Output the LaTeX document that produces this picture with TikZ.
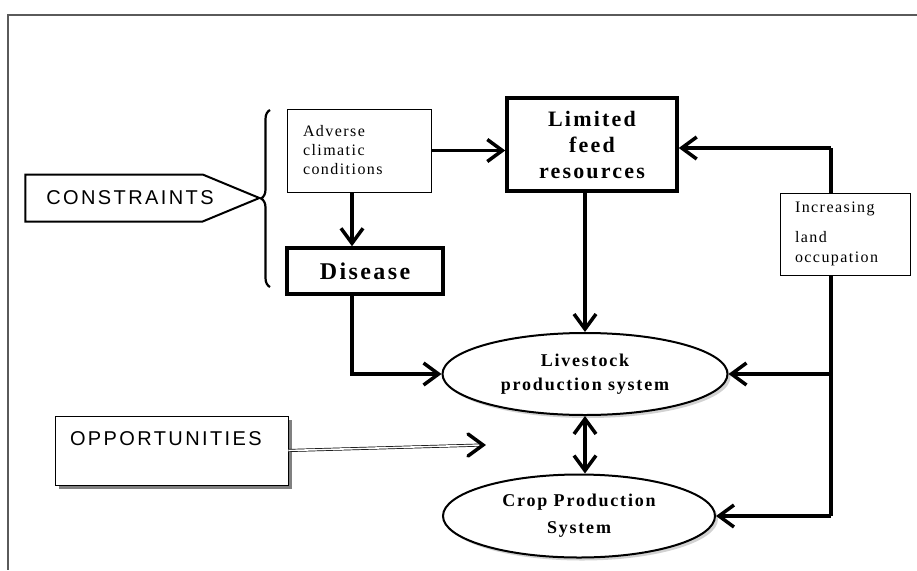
\documentclass[tikz,border=0pt]{standalone}
\usepackage{fontspec}
\setmainfont{Liberation Serif}
\setsansfont{Liberation Sans}
\usetikzlibrary{positioning,arrows.meta,calc,shapes.geometric,shapes.symbols,shadows,decorations.pathreplacing}
\definecolor{colorline}  {RGB}{  0,  0,  0}
\definecolor{colorframe} {RGB}{ 90, 90, 90}
\definecolor{colorshadow}{RGB}{128,128,128}
\definecolor{colorwhite} {RGB}{255,255,255}
\newfontfamily\bigspaced[LetterSpace=10]{Liberation Serif}
\newfontfamily\smallspaced[LetterSpace=9]{Liberation Serif}
\newfontfamily\sansspaced[LetterSpace=12]{Liberation Sans}

\begin{document}
\begin{tikzpicture}[
    x=1pt, y=-1pt, thick,
    >={Straight Barb[length=15pt,width=22pt]},
    link/.style={draw=colorline,line width=3.5pt},
    thinbox/.style={draw=colorline,line width=0.8pt,fill=colorwhite,inner sep=0pt},
    thickbox/.style={draw=colorline,line width=3.5pt,fill=colorwhite,inner sep=0pt},
    oval/.style={draw=colorline,ellipse,line width=2pt,fill=colorwhite,inner sep=0pt,
        drop shadow={shadow xshift=3pt,shadow yshift=-3pt,fill=colorshadow!70}},
    title/.style={font={\bigspaced\bfseries\fontsize{22}{26}\selectfont},align=center},
    smalltext/.style={font={\smallspaced\fontsize{16}{19}\selectfont},align=left},
    sanstext/.style={font={\sansspaced\fontsize{20}{24}\selectfont}}
]
    \useasboundingbox (0,0) rectangle (917,570);

    % Frame
    \draw[colorframe,line width=1.2pt] (917,15) -- (8,15) -- (8,570);

    % Constraints
    \node[draw=colorline,line width=2pt,fill=colorwhite,signal,signal to=east,signal pointer angle=45,
        minimum width=234,minimum height=47,anchor=east,inner sep=0pt] (constraints) at (262,198) {};
    \node[sanstext] (constraintstext) at (130,198) {CONSTRAINTS};
    \draw[decorate,decoration={brace,amplitude=9pt},line width=2.2pt] (270,287) -- (270,110);

    % Constraint boxes
    \node[thinbox,smalltext,minimum width=144,minimum height=83,text width=112] (adverse) at (359,150.5) {Adverse\\climatic\\conditions};
    \node[thickbox,title,minimum width=170,minimum height=93] (limited) at (592,144.5) {Limited\\feed\\resources};
    \node[thickbox,title,font={\bigspaced\bfseries\fontsize{24}{28}\selectfont},minimum width=156,minimum height=46] (disease) at (365,271) {Disease};

    % Production systems
    \node[oval,title,font={\bigspaced\bfseries\fontsize{18}{24}\selectfont},minimum width=285,minimum height=82] (livestock) at (585,374) {Livestock\\production system};
    \node[oval,title,font={\bigspaced\bfseries\fontsize{18}{27}\selectfont},minimum width=272,minimum height=83] (crop) at (579,516) {Crop Production\\System};

    % Opportunities
    \node[thinbox,sanstext,minimum width=233,minimum height=69,text width=203,align=left,
        drop shadow={shadow xshift=4pt,shadow yshift=-4pt,fill=colorshadow,opacity=1}] (opportunities) at (171.5,450.5) {OPPORTUNITIES\\\mbox{}};
    \coordinate (oppend) at (483,445);

    % Land occupation bus
    \coordinate (bustop) at (831,148);
    \coordinate (busbot) at (crop.east -| bustop);
    \node[thinbox,smalltext,font={\smallspaced\fontsize{16}{20}\selectfont},minimum width=130,minimum height=82,text width=100] (increasing) at (845,234) {Increasing\\[10pt]land\\occupation};

    % Arrows between constraints
    \draw[->,link] (adverse.east) -- (adverse.east -| limited.west);
    \draw[->,link] ([xshift=-7pt]adverse.south) -- ([xshift=-7pt]adverse.south |- disease.north);
    \draw[->,link] ([xshift=-13pt]disease.south) |- (livestock.west);
    \draw[->,link] (limited.south -| livestock.north) -- (livestock.north);

    % Arrows from land occupation
    \draw[link] (bustop) -- (increasing.north -| bustop);
    \draw[link] (increasing.south -| bustop) -- (busbot);
    \draw[->,link] (bustop) -- (bustop -| limited.east);
    \draw[->,link] (livestock.east -| bustop) -- (livestock.east);
    \draw[->,link] (busbot) -- (crop.east);

    % Livestock and crops
    \draw[<->,link] (livestock.south) -- (livestock.south |- crop.north);

    % Opportunities arrow
    \draw[double=colorwhite,double distance=1.6pt,line width=0.7pt] (opportunities.east) -- (oppend);
    \draw[link,line cap=round,line join=miter] ($(oppend)+(-15,-11)$) -- (oppend) -- ($(oppend)+(-15,11)$);

\end{tikzpicture}
\end{document}
